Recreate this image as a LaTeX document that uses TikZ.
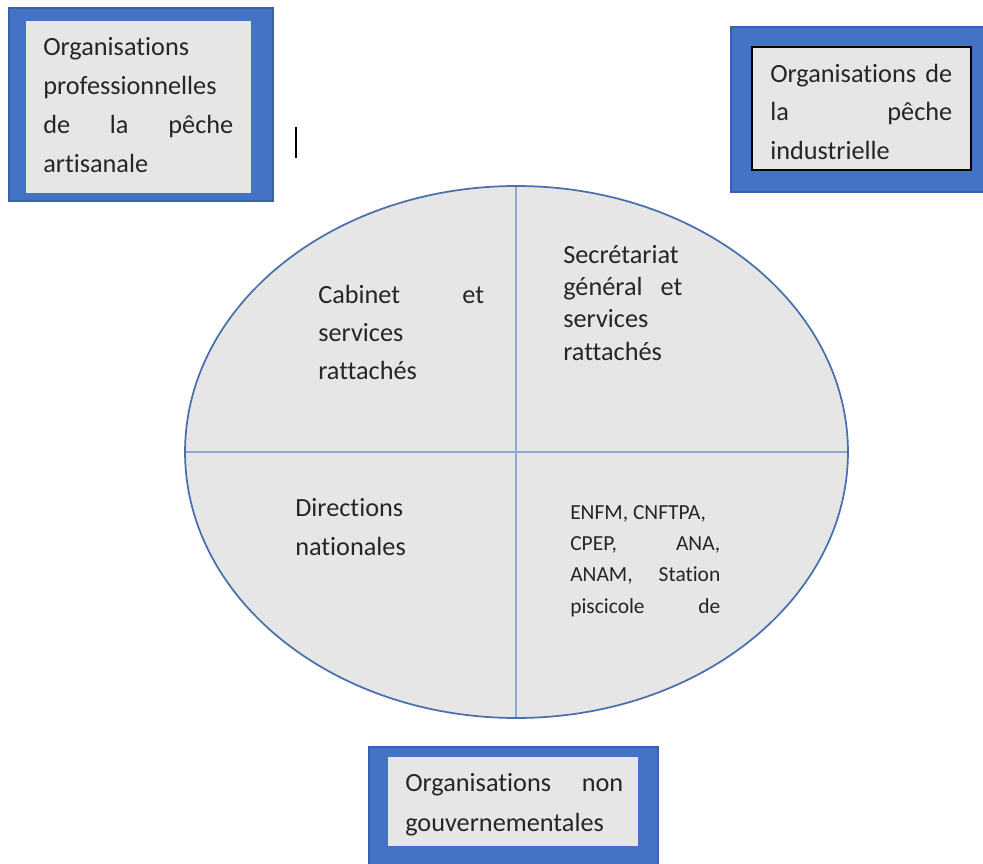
\documentclass[tikz,border=0pt]{standalone}
\usepackage{fontspec}
\setmainfont[RawFeature={-liga;-clig;-calt;-dlig}]{Carlito}
\definecolor{boxblue}{HTML}{4472C4}
\definecolor{boxedge}{HTML}{3A62AA}
\definecolor{boxgray}{HTML}{E7E6E6}
\definecolor{ovalfill}{HTML}{E6E6E6}
\definecolor{ovalline}{HTML}{4A6FAE}
\definecolor{splitline}{HTML}{8FA8D0}
\definecolor{ink}{HTML}{262626}
\tikzset{
  outerbox/.style={fill=boxblue, draw=boxedge, line width=0.8pt},
  innerbox/.style={fill=boxgray},
  txt/.style={anchor=base west, inner sep=0pt, text=ink,
    font=\fontsize{19.7pt}{29.25pt}\selectfont},
  smalltxt/.style={txt, font=\fontsize{16.1pt}{23.5pt}\selectfont},
}
\begin{document}
\begin{tikzpicture}[x=0.75pt, y=-0.75pt]
  \clip (0,0) rectangle (983,864);
  \fill[white] (0,0) rectangle (983,864);

  % top-left box: artisanal fishing organisations
  \draw[outerbox] (9,8) rectangle (273,201);
  \fill[innerbox] (26,21) rectangle (251,193);
  \node[txt] (artisanale) at (43,55) {\vtop{\baselineskip=29.25pt
      \hbox{Organisations}
      \hbox{professionnelles}
      \hbox to 142.5pt{de\hfill la\hfill pêche}
      \hbox{artisanale}}};

  % text cursor
  \coordinate (cursorTop) at (296,127);
  \coordinate (cursorBot) at (296,158);
  \draw[black, line width=1.2pt] (cursorTop) -- (cursorBot);

  % top-right box: industrial fishing organisations
  \draw[outerbox] (731,27) rectangle (990,192);
  \fill[innerbox, draw=black, line width=1.1pt] (752,47) rectangle (971,170);
  \node[txt] (industrielle) at (770,82) {\vtop{\baselineskip=28.9pt
      \hbox to 136.5pt{Organisations\hfill de}
      \hbox to 136.5pt{la\hfill pêche}
      \hbox{industrielle}}};

  % bottom box: NGOs
  \draw[outerbox] (369,747) rectangle (658,875);
  \fill[innerbox] (388,757) rectangle (638,846);
  \node[txt] (ong) at (405,791) {\vtop{\baselineskip=30pt
      \hbox to 163.5pt{Organisations\hfill non}
      \hbox{gouvernementales}}};

  % central oval split into four quarters
  \fill[ovalfill] (516.5,452) ellipse [x radius=248.6pt, y radius=199.5pt];
  \draw[splitline, line width=1.5pt] (516,186) -- (516,718);
  \draw[splitline, line width=1.5pt] (185,452) -- (848,452);
  \draw[ovalline, line width=1.3pt] (516.5,452) ellipse [x radius=248.6pt, y radius=199.5pt];

  \node[txt] (cabinet) at (318,303) {\vtop{\baselineskip=28.5pt
      \hbox to 124.5pt{Cabinet\hfill et}
      \hbox{services}
      \hbox{rattachés}}};

  \node[txt] (secretariat) at (563,263) {\vtop{\baselineskip=24.25pt
      \hbox{Secrétariat}
      \hbox to 89.25pt{général\hfill et}
      \hbox{services}
      \hbox{rattachés}}};

  \node[txt] (directions) at (295,516) {\vtop{\baselineskip=29.25pt
      \hbox{Directions}
      \hbox{nationales}}};

  \node[smalltxt] (etablissements) at (570,519) {\vtop{\baselineskip=23.5pt
      \hbox{ENFM, CNFTPA,}
      \hbox to 112.5pt{CPEP,\hfill ANA,}
      \hbox to 112.5pt{ANAM,\hfill Station}
      \hbox to 112.5pt{piscicole\hfill de}}};
\end{tikzpicture}
\end{document}
